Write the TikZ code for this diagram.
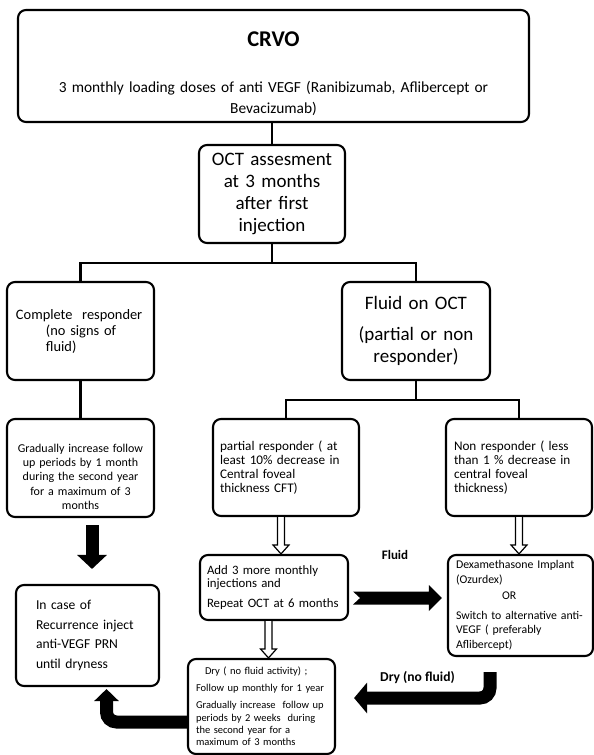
\documentclass[tikz,border=0pt]{standalone}
\usepackage{fontspec}
\setmainfont{Carlito}
\usetikzlibrary{arrows.meta,calc}
\tikzset{>=Latex}
\tikzset{
  box/.style={draw, line width=2.1pt, rounded corners=8pt, inner xsep=5pt, inner ysep=0pt},
  link/.style={line width=2.1pt},
  hollow/.style={draw, fill=white, line width=1.2pt, line join=miter},
  bigarrow/.style={line width=13pt, -{Triangle[length=14pt,width=29pt]}}
}

\begin{document}
\begin{tikzpicture}[x=1pt,y=-1pt]

\def\sep{19}
\def\hollowarrow#1#2{
	\draw[hollow] ($(#1)+(-3.5,0)$) -- ($(#2)+(-3.5,-9)$) -- ($(#2)+(-8,-9)$) -- (#2) -- ($(#2)+(8,-9)$) -- ($(#2)+(3.5,-9)$) -- ($(#1)+(3.5,0)$);
}

\useasboundingbox (0,0) rectangle (594,755);

% Top of the chart
\node[box, minimum width=511pt, minimum height=112pt, text width=501pt, align=center, font=\fontsize{15.4}{21}\selectfont] (crvo) at (273.5,66) {\rule{0pt}{31pt}{\fontsize{22.5}{26}\selectfont\bfseries CRVO}\\[25pt]3 monthly loading doses of anti VEGF (Ranibizumab, Aflibercept or\\Bevacizumab)};

\node[box, minimum width=146pt, minimum height=98pt, text width=136pt, align=center, font=\fontsize{19}{21.7}\selectfont] (oct) at (272,194) {OCT assesment\\at 3 months\\after first\\injection};

% Responders
\node[box, minimum width=147pt, minimum height=98pt, text width=137pt, align=left, font=\fontsize{14.4}{16}\selectfont] (comp) at (80.5,331) {\hspace*{4pt}Complete\ \ responder\\\hspace*{34pt}(no signs of\\\hspace*{34pt}fluid)};

\node[box, minimum width=148pt, minimum height=98pt, text width=138pt, align=center, font=\fontsize{19}{21.5}\selectfont] (fluid) at (416,331) {Fluid on OCT\\[9.5pt](partial or non\\responder)};

\node[box, minimum width=147pt, minimum height=98pt, text width=137pt, align=center, font=\fontsize{12}{14.3}\selectfont] (grad) at (80.5,468) {\rule{0pt}{26pt}Gradually increase follow\\up periods by 1 month\\during the second year\\for a maximum of 3\\months};

\node[box, minimum width=146pt, minimum height=97pt, text width=136pt, align=left, font=\fontsize{13.2}{14.1}\selectfont] (partial) at (286,467.5) {\hspace*{2pt}partial responder ( at\\\hspace*{2pt}least 10\% decrease in\\\hspace*{2pt}Central foveal\\\hspace*{2pt}thickness CFT)};

\node[box, minimum width=146pt, minimum height=97pt, text width=136pt, align=left, font=\fontsize{13.2}{14.1}\selectfont] (non) at (519,467.5) {\hspace*{3pt}Non responder ( less\\\hspace*{3pt}than 1 \% decrease in\\\hspace*{3pt}central foveal\\\hspace*{3pt}thickness)};

% Treatment steps
\node[box, minimum width=148pt, minimum height=65pt, text width=138pt, align=left, font=\fontsize{12.8}{13.5}\selectfont] (add) at (274,587.5) {\hspace*{2pt}Add 3 more monthly\\\hspace*{2pt}injections and\\[6.5pt]\hspace*{2pt}Repeat OCT at 6 months};

\node[box, minimum width=145pt, minimum height=101pt, text width=135pt, align=left, font=\fontsize{11.8}{14.5}\selectfont] (dexa) at (520.5,605.5) {\hspace*{3pt}Dexamethasone Implant\\\hspace*{3pt}(Ozurdex)\\[1.5pt]\hspace*{49pt}OR\\[5.5pt]\hspace*{3pt}Switch to alternative anti-\\\hspace*{3pt}VEGF ( preferably\\\hspace*{3pt}Aflibercept)};

\node[box, minimum width=143pt, minimum height=101pt, inner xsep=20pt, text width=103pt, align=left, font=\fontsize{13.6}{19.5}\selectfont] (incase) at (87.5,635.5) {In case of\\Recurrence inject\\anti-VEGF PRN\\until dryness};

\node[box, minimum width=147pt, minimum height=95pt, text width=137pt, align=left, font=\fontsize{10.5}{12.3}\selectfont] (dry) at (261.5,706.5) {\hspace*{12pt}Dry ( no fluid activity) ;\\[4.7pt]\hspace*{3pt}Follow up monthly for 1 year\\[4.7pt]\hspace*{3pt}Gradually increase\ \ follow up\\\hspace*{3pt}periods by 2 weeks\ \ during\\\hspace*{3pt}the second year for a\\\hspace*{3pt}maximum of 3 months};

% Tree lines
\draw[link] (oct.north |- crvo.south) -- (oct.north);
\draw[link] (oct.south) -- ++(0,\sep) coordinate (split1);
\draw[link] (split1) -| (comp.north);
\draw[link] (split1) -| (fluid.north);
\draw[link] (fluid.south) -- ++(0,\sep) coordinate (split2);
\draw[link] (split2) -| (partial.north);
\draw[link] (split2) -| (non.north);
\draw[link] (comp.south) -- (grad.north);

% Hollow arrows
\coordinate (h1) at ($(partial.south)+(-5,0)$);
\coordinate (h2) at ($(add.south)+(-5.5,0)$);
\hollowarrow{h1}{h1 |- add.north}
\hollowarrow{h2}{h2 |- dry.north}
\hollowarrow{non.south}{non.south |- dexa.north}

% Black arrows
\draw[bigarrow] ($(grad.south)+(11.5,7)$) -- ($(incase.north)+(4.5,-15)$);

\coordinate (ft) at ($(add.east)+(4,10.5)$);
\coordinate (fh) at (ft -| dexa.west);
\fill ($(ft)+(0,-6.5)$) -- ($(fh)+(-18,-6.5)$) -- ($(fh)+(-18,-13)$) -- ($(fh)+(-5,0)$) -- ($(fh)+(-18,13)$) -- ($(fh)+(-18,6.5)$) -- ($(ft)+(0,6.5)$) -- ($(ft)+(7,0)$) -- cycle;

\draw[bigarrow, rounded corners=10pt, -{Triangle[length=13pt,width=30pt]}] ($(dexa.south)+(-30.5,15)$) |- ($(dry.east)+(18,-8.5)$);
\draw[bigarrow, rounded corners=10pt, -{Triangle[length=12pt,width=24pt]}] ($(dry.west)+(0,15.5)$) -| ($(incase.south)+(19,2)$);

% Arrow labels
\node[font=\fontsize{13}{15}\selectfont\bfseries] (fluidlbl) at (395,555) {Fluid};
\node[font=\fontsize{13.6}{16}\selectfont\bfseries] (drylbl) at (417.5,678) {Dry (no fluid)};

\end{tikzpicture}
\end{document}
